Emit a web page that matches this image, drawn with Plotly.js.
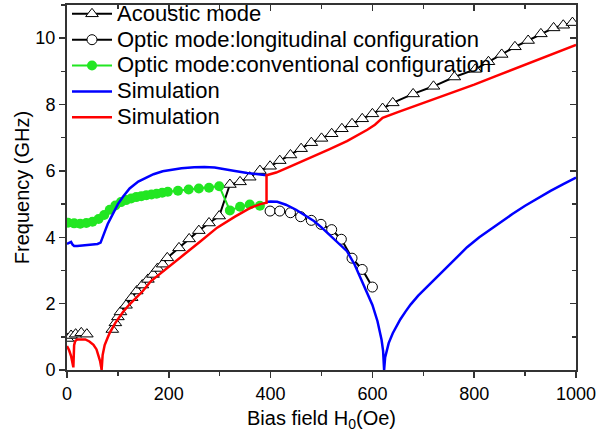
<!DOCTYPE html>
<html>
<head>
<meta charset="utf-8">
<script src="https://cdn.plot.ly/plotly-3.0.1.min.js"></script>
<style>html,body{margin:0;padding:0;background:#fff;}#chart{width:597px;height:439px;}</style>
</head>
<body>
<div id="chart"></div>
<script>
// Acoustic mode (open triangles)
const acousticH = [1, 8, 17, 28, 39, null, 89, 95, 100, 105, 116, 127, 137, 148, 159, 169, 178, 188, 197, 220, 240, 259, 279, 299, 320, 340, 359, 379, 399, 418, 439, 460, 480, 500, 520, 540, 560, 580, 600, 620, 640, 680, 720, 761, 802, 828, 854, 880, 906, 931, 956, 975, 993];
const acousticF = [0.95, 1.04, 1.08, 1.12, 1.08, null, 1.22, 1.42, 1.6, 1.75, 1.95, 2.18, 2.38, 2.56, 2.73, 2.88, 3.06, 3.19, 3.38, 3.68, 3.95, 4.2, 4.43, 4.64, 5.59, 5.67, 5.81, 6.01, 6.14, 6.31, 6.48, 6.67, 6.85, 6.98, 7.12, 7.27, 7.42, 7.57, 7.72, 7.88, 8.05, 8.32, 8.55, 8.83, 9.06, 9.29, 9.51, 9.74, 9.93, 10.13, 10.31, 10.39, 10.47];

// Optic mode: longitudinal configuration (open circles)
const longH = [399, 418, 439, 459, 480, 499, 520, 539, 560, 580, 600];
const longF = [4.79, 4.79, 4.74, 4.62, 4.51, 4.39, 4.23, 3.94, 3.37, 3.03, 2.5];

// Optic mode: conventional configuration (green filled circles)
const convH = [2, 14, 26, 38, 50, 62, 73, 84, 95, 106, 116, 126, 136, 146, 156, 166, 176, 187, 198, 218, 239, 259, 279, 299, 320, 340, 359, 379];
const convF = [4.44, 4.42, 4.41, 4.43, 4.47, 4.55, 4.67, 4.83, 4.96, 5.06, 5.12, 5.17, 5.21, 5.24, 5.27, 5.29, 5.31, 5.34, 5.37, 5.4, 5.44, 5.47, 5.49, 5.54, 4.81, 4.92, 4.99, 4.95];

// Simulation (blue)
const blueH = [0, 4, 8, 11, 14, 20, 30, 40, 50, 60, 66, 70, 75, 80, 90, 100, 110, 123, 140, 155, 170, 188, 210, 225, 250, 270, 290, 310, 330, 354, 375, 392, null, 392, 400, 413, 430, 450, 470, 485, 500, 520, 540, 550, 565, 580, 600, 610, 618, 621, 623, 625, 628, 632, 640, 655, 665, 675, 690, 705, 720, 740, 760, 786, 810, 830, 851, 875, 900, 925, 950, 975, 1000];
const blueF = [3.8, 3.82, 3.86, 3.78, 3.74, 3.74, 3.75, 3.76, 3.78, 3.8, 3.84, 3.98, 4.2, 4.4, 4.72, 5.0, 5.22, 5.47, 5.68, 5.8, 5.9, 5.99, 6.05, 6.08, 6.11, 6.12, 6.1, 6.06, 6.0, 5.94, 5.9, 5.87, null, 5.06, 5.08, 5.07, 4.98, 4.83, 4.65, 4.49, 4.3, 4.02, 3.72, 3.58, 3.18, 2.68, 1.96, 1.47, 0.91, 0.58, 0.0, 0.38, 0.6, 0.81, 1.11, 1.53, 1.76, 1.97, 2.24, 2.47, 2.68, 3.0, 3.3, 3.7, 4.0, 4.22, 4.45, 4.7, 4.95, 5.18, 5.4, 5.6, 5.8];

// Simulation (red)
const redH = [0, 4, 8, 11, 12.5, 14, 16, 20, 28, 36, 44, 52, 58, 62, 65, 67, 68, 70, 74, 80, 84, 95, 110, 123, 149, 165, 200, 230, 260, 295, 330, 361, 380, 392, 392, 411, 437, 460, 483, 515, 550, 570, 590, 605, 620, 650, 700, 750, 800, 850, 900, 950, 1000];
const redF = [0.72, 0.6, 0.42, 0.2, 0.08, 0.75, 0.87, 0.92, 0.93, 0.92, 0.86, 0.76, 0.62, 0.45, 0.27, 0.1, 0, 0.45, 0.75, 0.98, 1.12, 1.42, 1.75, 1.98, 2.38, 2.68, 3.1, 3.48, 3.85, 4.29, 4.62, 4.89, 5.0, 5.04, 5.87, 5.95, 6.12, 6.27, 6.42, 6.65, 6.9, 7.06, 7.24, 7.39, 7.6, 7.77, 8.04, 8.32, 8.6, 8.9, 9.2, 9.51, 9.8];

const names = [
  'Acoustic mode',
  'Optic mode:longitudinal configuration',
  'Optic mode:conventional configuration',
  'Simulation',
  'Simulation'
];
const big = s => '<span style="font-size:22px">' + s + '</span>';

const traces = [
  {x: acousticH, y: acousticF, name: big(names[0]), mode: 'lines+markers', type: 'scatter',
   line: {color: '#000', width: 2}, marker: {symbol: 'triangle-up', size: 11, color: '#fff', line: {color: '#000', width: 1}}, connectgaps: false},
  {x: longH, y: longF, name: big(names[1]), mode: 'lines+markers', type: 'scatter',
   line: {color: '#000', width: 2}, marker: {symbol: 'circle', size: 10, color: '#fff', line: {color: '#000', width: 1}}},
  {x: convH, y: convF, name: big(names[2]), mode: 'lines+markers', type: 'scatter',
   line: {color: '#22e622', width: 2}, marker: {symbol: 'circle', size: 10, color: '#22e622'}},
  {x: blueH, y: blueF, name: big(names[3]), mode: 'lines', type: 'scatter',
   line: {color: '#0000ff', width: 2.5}, connectgaps: false},
  {x: redH, y: redF, name: big(names[4]), mode: 'lines', type: 'scatter',
   line: {color: '#ff0000', width: 2.5}},
  {x: [], y: [], xaxis: 'x2', yaxis: 'y2', showlegend: false, hoverinfo: 'skip', type: 'scatter', mode: 'markers'}
];

const fontFam = 'Arial, "Liberation Sans", sans-serif';
const layout = {
  width: 597, height: 439,
  margin: {l: 67, r: 21, t: 5, b: 69, autoexpand: false},
  paper_bgcolor: '#fff', plot_bgcolor: '#fff',
  font: {family: fontFam, color: '#000', size: 18},
  showlegend: true,
  legend: {x: 0, y: 1.025, xanchor: 'left', yanchor: 'top', bgcolor: 'rgba(0,0,0,0)', itemwidth: 40,
           font: {size: 17.6, family: fontFam, color: '#000'}, tracegroupgap: 0},
  xaxis: {range: [0, 1000], dtick: 200, tick0: 0, ticks: 'outside', ticklen: 6, tickwidth: 1.5, tickcolor: '#333',
          minor: {dtick: 100, ticks: 'outside', ticklen: 4, tickwidth: 1.5, tickcolor: '#333'},
          showline: true, linecolor: '#333', linewidth: 2, mirror: true, showgrid: false, zeroline: false,
          tickfont: {size: 18}, title: {text: 'Bias field H<sub>0</sub>(Oe)', font: {size: 20}, standoff: 8}},
  yaxis: {range: [0, 11], dtick: 2, tick0: 0, ticks: 'outside', ticklen: 6, tickwidth: 1.5, tickcolor: '#333',
          minor: {dtick: 1, ticks: 'outside', ticklen: 4, tickwidth: 1.5, tickcolor: '#333'},
          showline: true, linecolor: '#333', linewidth: 2, mirror: true, showgrid: false, zeroline: false,
          tickfont: {size: 18}, title: {text: 'Frequency (GHz)', font: {size: 20}, standoff: 0}},
  xaxis2: {overlaying: 'x', side: 'top', range: [0, 1000], dtick: 200, tick0: 0, ticks: 'inside', ticklen: 6, tickwidth: 1.5, tickcolor: '#333',
           minor: {dtick: 100, ticks: 'inside', ticklen: 4, tickwidth: 1.5, tickcolor: '#333'},
           showticklabels: false, showline: false, showgrid: false, zeroline: false},
  yaxis2: {overlaying: 'y', side: 'right', range: [0, 11], dtick: 2, tick0: 0, ticks: 'inside', ticklen: 6, tickwidth: 1.5, tickcolor: '#333',
           minor: {dtick: 1, ticks: 'inside', ticklen: 4, tickwidth: 1.5, tickcolor: '#333'},
           showticklabels: false, showline: false, showgrid: false, zeroline: false}
};

Plotly.newPlot('chart', traces, layout, {displayModeBar: false, staticPlot: true});
</script>
</body>
</html>
